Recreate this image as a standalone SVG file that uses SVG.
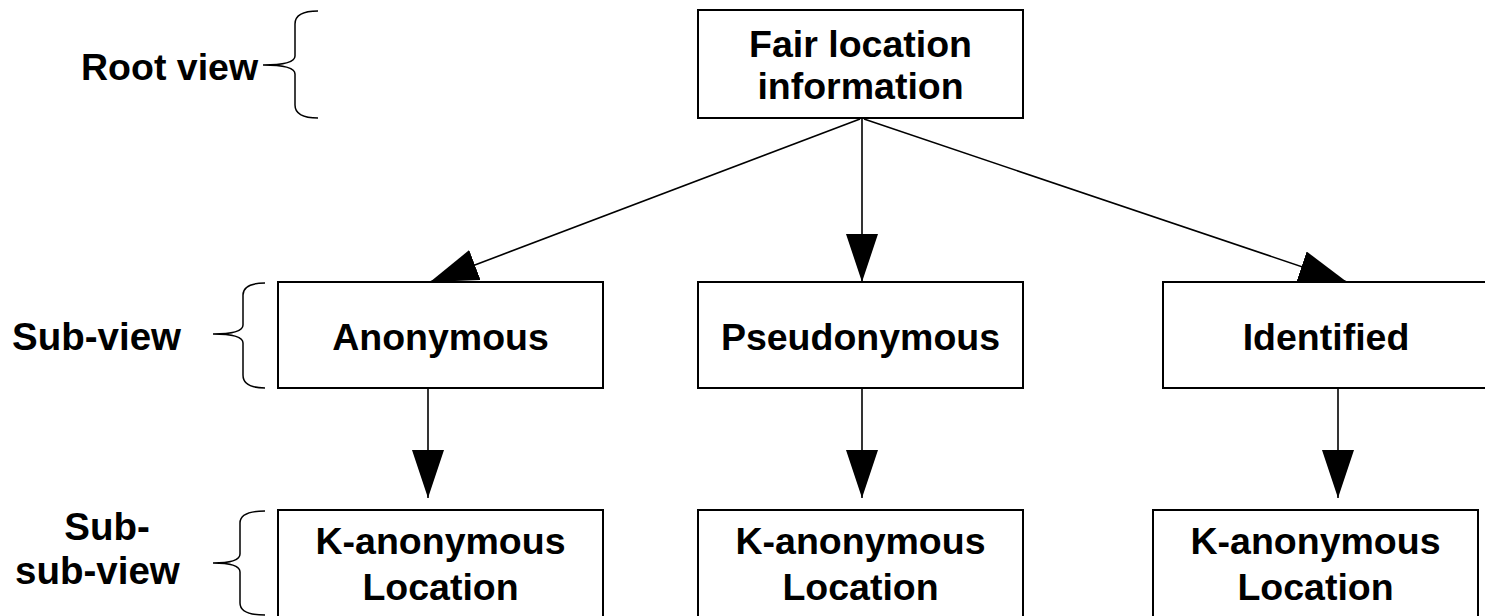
<svg xmlns="http://www.w3.org/2000/svg" width="1485" height="616" viewBox="0 0 1485 616">
<style>
.box{fill:#fff;stroke:#000;stroke-width:2}
.t{font-family:"Liberation Sans",Arial,sans-serif;font-weight:bold;font-size:37.5px;fill:#000}
.s{font-size:38.5px}
.c{text-anchor:middle}
.ln{stroke:#000;stroke-width:1.6;fill:none}
.br{stroke:#000;stroke-width:1.5;fill:none}
</style>
<defs>
<marker id="ah" viewBox="0 0 48 32" refX="48" refY="16" markerWidth="48" markerHeight="32" markerUnits="userSpaceOnUse" orient="auto">
<path d="M0,0 L48,16 L0,32 z" fill="#000"/>
</marker>
</defs>
<rect width="1485" height="616" fill="#fff"/>
<g id="labels">
<text class="t" x="81" y="80">Root view</text>
<path class="br" d="M318,11 Q295,11 295,24 L295,56 Q295,65 263,65 Q295,65 295,74 L295,105 Q295,118 318,118"/>
<text class="t s" x="12" y="350">Sub-view</text>
<path class="br" d="M265,283 Q243,283 243,295 L243,325 Q243,334 213,334 Q243,334 243,343 L243,375 Q243,388 265,388"/>
<text class="t s c" x="107" y="540">Sub-</text>
<text class="t s" x="15" y="584">sub-view</text>
<path class="br" d="M265,511 Q240,511 240,523 L240,554 Q240,563 213,563 Q240,563 240,572 L240,603 Q240,615 265,615"/>
</g>
<g id="connectors">
<line class="ln" x1="860" y1="119" x2="430" y2="282" marker-end="url(#ah)"/>
<line class="ln" x1="862" y1="119" x2="862" y2="282" marker-end="url(#ah)"/>
<line class="ln" x1="864" y1="119" x2="1347" y2="282" marker-end="url(#ah)"/>
<line class="ln" x1="428" y1="389" x2="428" y2="498" marker-end="url(#ah)"/>
<line class="ln" x1="862" y1="389" x2="862" y2="498" marker-end="url(#ah)"/>
<line class="ln" x1="1338" y1="389" x2="1338" y2="498" marker-end="url(#ah)"/>
</g>
<g id="root">
<rect class="box" x="698" y="10" width="325" height="108"/>
<text class="t c" x="860.5" y="57">Fair location</text>
<text class="t c" x="860.5" y="99">information</text>
</g>
<g id="anonymous">
<rect class="box" x="278" y="282" width="325" height="106"/>
<text class="t c" x="440.5" y="350">Anonymous</text>
</g>
<g id="pseudonymous">
<rect class="box" x="698" y="282" width="325" height="106"/>
<text class="t c" x="860.5" y="350">Pseudonymous</text>
</g>
<g id="identified">
<rect class="box" x="1163" y="282" width="325" height="106"/>
<text class="t c" x="1326" y="350">Identified</text>
</g>
<g id="kanon1">
<rect class="box" x="278" y="510" width="325" height="110"/>
<text class="t c" x="440.5" y="554">K-anonymous</text>
<text class="t c" x="440.5" y="600">Location</text>
</g>
<g id="kanon2">
<rect class="box" x="698" y="510" width="325" height="110"/>
<text class="t c" x="860.5" y="554">K-anonymous</text>
<text class="t c" x="860.5" y="600">Location</text>
</g>
<g id="kanon3">
<rect class="box" x="1153" y="510" width="325" height="110"/>
<text class="t c" x="1315.5" y="554">K-anonymous</text>
<text class="t c" x="1315.5" y="600">Location</text>
</g>
</svg>
